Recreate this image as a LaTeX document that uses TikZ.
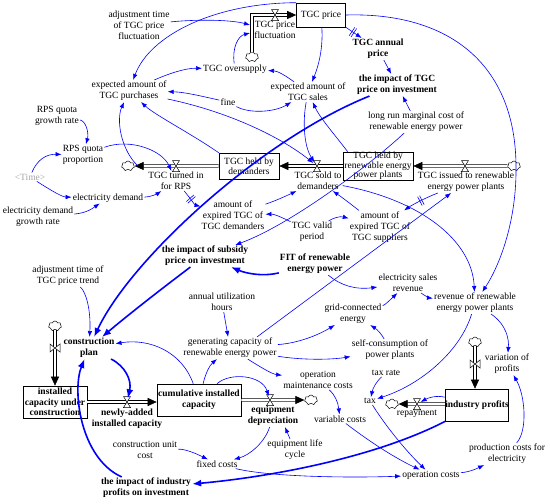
\documentclass[tikz,border=0pt]{standalone}
\usepackage{fontspec}
\setmainfont{Liberation Serif}
\usetikzlibrary{arrows.meta,shapes.symbols}
\definecolor{lk}{RGB}{0,0,255}
\newcommand{\nf}{\fontsize{9.5}{11}\selectfont}
\newcommand{\dmk}{\rule[-5pt]{0.6pt}{10pt}\hspace{1.6pt}\rule[-5pt]{0.6pt}{10pt}}
\tikzset{
 txt/.style={align=center, inner sep=1pt, font=\nf},
 bt/.style={align=center, inner sep=1pt, font=\nf\bfseries},
 stock/.style={draw=black, line width=0.6pt, inner sep=0pt, align=center, font=\nf},
 cl/.style={cloud, cloud puffs=7, cloud ignores aspect, draw=black, line width=0.5pt, minimum width=13pt, minimum height=10pt, inner sep=0pt, fill=white},
 vl/.style={inner sep=0pt, minimum width=7pt, minimum height=7pt},
 pipe/.style={draw=black, double=white, line width=0.55pt, double distance=2pt, -{Triangle[length=9pt,width=8pt]}},
 lnk/.style={draw=lk, line width=0.6pt, -{Latex[length=6pt,width=4.5pt]}},
 tlnk/.style={draw=lk, line width=1.6pt, -{Latex[length=9pt,width=7pt]}},
 dm/.style={sloped, inner sep=0pt, text=lk},
 valveh/.pic={\draw[fill=white, line width=0.5pt] (-3.5,-5.5) -- (3.5,-5.5) -- (-3.5,5.5) -- (3.5,5.5) -- cycle;},
 valvev/.pic={\draw[fill=white, line width=0.5pt] (-5,-4) -- (-5,4) -- (5,-4) -- (5,4) -- cycle;},
}
\begin{document}
\begin{tikzpicture}[x=1pt,y=-1pt]
\useasboundingbox (0,0) rectangle (550,504);
\fill[white] (0,0) rectangle (550,504);

% ---------- stocks ----------
\node[stock, minimum width=49pt, minimum height=24pt] (price) at (321,15) {TGC price};
\node[stock, minimum width=60pt, minimum height=26pt, font=\fontsize{9.5}{10}\selectfont] (demBox) at (249,166) {TGC held by\\demanders};
\node[stock, minimum width=70pt, minimum height=27pt, font=\fontsize{9.5}{7.6}\selectfont] (renBox) at (378,166) {TGC held by\\renewable energy\\power plants};
\node[stock, minimum width=64pt, minimum height=32pt, font=\fontsize{9.5}{10.5}\selectfont\bfseries] (icuc) at (55,402) {installed\\capacity under\\construction};
\node[stock, minimum width=84pt, minimum height=32pt, font=\fontsize{9.5}{11}\selectfont\bfseries] (cum) at (199,400) {cumulative installed\\capacity};
\node[stock, minimum width=62pt, minimum height=32pt, font=\nf\bfseries] (ip) at (477,405) {industry profits};

% ---------- clouds ----------
\node[cl] (cFluc) at (252,57) {};
\node[cl] (cTurn) at (128,166) {};
\node[cl] (cIss) at (514,166) {};
\node[cl] (cCons) at (55,326) {};
\node[cl] (cDep) at (311,400) {};
\node[cl] (cRep) at (392,404) {};
\node[cl] (cIP) at (475,342) {};

% ---------- valves (placeholders) ----------
\node[vl] (vFluc) at (275,15) {};
\node[vl] (vTurn) at (176,166) {};
\node[vl] (vSold) at (317,166) {};
\node[vl] (vIss) at (465,166) {};
\node[vl] (vCons) at (55,348) {};
\node[vl] (vNew) at (127,402) {};
\node[vl] (vDep) at (270,400) {};
\node[vl] (vRep) at (417,404) {};
\node[vl] (vIP) at (475,364) {};

% ---------- texts ----------
\node[txt] (adjFluc) at (139,25) {adjustment time\\of TGC price\\fluctuation};
\node[txt] (flucLab) at (275,30) {TGC price\\fluctuation};
\node[bt] (annual) at (378,49) {TGC annual\\price};
\node[bt] (impTGC) at (397,85) {the impact of TGC\\price on investment};
\node[txt] (lrmc) at (416,122) {long run marginal cost of\\renewable energy power};
\node[txt] (sales) at (308,92) {expected amount of\\TGC sales};
\node[txt] (over) at (235,69) {TGC oversupply};
\node[txt] (purch) at (129,91) {expected amount of\\TGC purchases};
\node[txt] (fine) at (228,102) {fine};
\node[txt] (rpsg) at (57,116) {RPS quota\\growth rate};
\node[txt] (rpsq) at (83,155) {RPS quota\\proportion};
\node[txt, text=black!35] (time) at (30,177) {<Time>};
\node[txt] (edem) at (108,198) {electricity demand};
\node[txt] (edgr) at (38,217) {electricity demand\\growth rate};
\node[txt] (turned) at (176,181) {TGC turned in\\for RPS};
\node[txt] (soldLab) at (318,181) {TGC sold to\\demanders};
\node[txt] (issuedLab) at (466,182) {TGC issued to renewable\\energy power plants};
\node[txt] (expDem) at (233,215) {amount of\\expired TGC of\\TGC demanders};
\node[txt] (valid) at (312,232) {TGC valid\\period};
\node[txt] (expSup) at (380,227) {amount of\\expired TGC of\\TGC suppliers};
\node[bt] (impSub) at (205,256) {the impact of subsidy\\price on investment};
\node[bt] (fit) at (315,264) {FIT of renewable\\energy power};
\node[txt] (esr) at (408,283) {electricity sales\\revenue};
\node[txt] (rev) at (475,303) {revenue of renewable\\energy power plants};
\node[txt] (grid) at (353,314) {grid-connected\\energy};
\node[txt] (adjTrend) at (68,276) {adjustment time of\\TGC price trend};
\node[txt] (auh) at (222,302) {annual utilization\\hours};
\node[txt] (gen) at (230,348) {generating capacity of\\renewable energy power};
\node[txt] (self) at (390,350) {self-consumption of\\power plants};
\node[bt] (plan) at (89,348) {construction\\plan};
\node[bt] (newly) at (127,419) {newly-added\\installed capacity};
\node[bt] (depr) at (273,416) {equipment\\depreciation};
\node[txt] (omc) at (318,380) {operation\\maintenance costs};
\node[txt] (taxrate) at (386,373) {tax rate};
\node[txt] (tax) at (370,401) {tax};
\node[txt] (repay) at (417,414) {repayment};
\node[txt] (varp) at (507,364) {variation of\\profits};
\node[txt] (varc) at (340,419) {variable costs};
\node[txt] (elc) at (295,450) {equipment life\\cycle};
\node[txt] (cuc) at (145,450) {construction unit\\cost};
\node[txt] (fixed) at (217,464) {fixed costs};
\node[bt] (impInd) at (146,488) {the impact of industry\\profits on investment};
\node[txt] (opc) at (431,475) {operation costs};
\node[txt] (pce) at (507,454) {production costs for\\electricity};

\coordinate (fIn1) at (250,25);
\coordinate (fIn2) at (250,33);
\coordinate (tOut) at (138,166);

% ---------- flows ----------
\draw[pipe] (cFluc) |- (price);
\draw[pipe] (demBox) -- (cTurn);
\draw[pipe] (renBox) -- (demBox);
\draw[pipe] (cIss) -- (renBox);
\draw[pipe] (cCons) -- (icuc);
\draw[pipe] (icuc.east) -- (icuc.east -| cum.west);
\draw[pipe] (cum.east |- cDep) -- (cDep);
\draw[pipe] (ip.west |- cRep) -- (cRep);
\draw[pipe] (cIP) -- (cIP |- ip.north);
\pic at (vFluc) {valveh};
\pic at (vTurn) {valveh};
\pic at (vSold) {valveh};
\pic at (vIss) {valveh};
\pic at (vCons) {valvev};
\pic at (vNew) {valveh};
\pic at (vDep) {valveh};
\pic at (vRep) {valveh};
\pic at (vIP) {valvev};

% ---------- links ----------
\draw[lnk] (adjFluc) .. controls (200,19) and (232,20) .. (fIn1);
\draw[lnk] (over) .. controls (232,48) and (238,36) .. (fIn2);
\draw[lnk] (price.north west) .. controls (215,3) and (150,35) .. (purch);
\draw[lnk] (price) .. controls (323,45) and (320,62) .. (sales);
\draw[lnk] (price.south east) -- (annual) node[dm, pos=0.45] {\dmk};
\draw[lnk] (annual) -- (impTGC);
\draw[lnk] (price.east) .. controls (450,12) and (515,65) .. (516,165) .. controls (517,220) and (500,265) .. (rev);
\draw[lnk] (purch) .. controls (168,74) and (185,68) .. (over);
\draw[lnk] (sales) .. controls (286,76) and (278,71) .. (over);
\draw[lnk] (fine) .. controls (205,97) and (185,92) .. (purch);
\draw[lnk] (fine) .. controls (250,114) and (275,112) .. (sales);
\draw[lnk] (purch) .. controls (230,112) and (282,138) .. (vSold);
\draw[lnk] (sales) .. controls (302,125) and (305,148) .. (vSold);
\draw[lnk] (demBox.north west) .. controls (190,133) and (155,115) .. (purch);
\draw[lnk] (tOut) .. controls (121,150) and (116,120) .. (purch);
\draw[lnk] (rpsg) .. controls (86,121) and (89,133) .. (rpsq);
\draw[lnk] (rpsq) .. controls (130,138) and (162,150) .. (turned);
\draw[lnk] (time) .. controls (55,193) and (63,197) .. (edem);
\draw[lnk] (time) .. controls (37,160) and (46,154) .. (rpsq);
\draw[lnk] (edgr) .. controls (87,213) and (93,208) .. (edem);
\draw[lnk] (edem) .. controls (150,197) and (157,194) .. (turned);
\draw[lnk] (turned) .. controls (190,198) and (195,205) .. (expDem) node[dm, pos=0.4] {\dmk};
\draw[lnk] (expDem) .. controls (275,201) and (286,196) .. (soldLab);
\draw[lnk] (valid) .. controls (285,219) and (275,214) .. (expDem);
\draw[lnk] (valid) .. controls (333,218) and (340,216) .. (expSup);
\draw[lnk] (expSup) .. controls (352,205) and (343,198) .. (soldLab);
\draw[lnk] (issuedLab) .. controls (425,198) and (412,205) .. (expSup) node[dm, pos=0.45] {\dmk};
\draw[lnk] ([xshift=27pt]gen.north) -- (issuedLab);
\draw[lnk] (lrmc) -- (impTGC);
\draw[lnk] (lrmc) .. controls (370,165) and (290,225) .. (impSub);
\draw[lnk] ([xshift=5pt]renBox.north west) .. controls (335,135) and (320,118) .. (sales);
\draw[lnk] (soldLab) .. controls (420,200) and (472,240) .. (rev);
\draw[tlnk] (fit) .. controls (262,277) and (245,273) .. (impSub);
\draw[lnk] (fit) .. controls (340,285) and (355,290) .. (esr);
\draw[lnk] (grid) .. controls (385,305) and (390,300) .. (esr);
\draw[lnk] (esr) .. controls (425,296) and (430,298) .. (rev);
\draw[lnk] (gen) .. controls (300,343) and (320,334) .. (grid);
\draw[lnk] (gen) .. controls (300,360) and (330,360) .. (self);
\draw[lnk] (self) .. controls (382,335) and (378,330) .. (grid);
\draw[lnk] (gen) .. controls (262,368) and (272,374) .. (omc);
\draw[lnk] (auh) -- (gen);
\draw[lnk] (cum) .. controls (206,372) and (210,365) .. (gen);
\draw[lnk] (cum) .. controls (182,352) and (150,338) .. (plan);
\draw[lnk] (cum) .. controls (230,372) and (262,375) .. (vDep);
\draw[tlnk] (plan) .. controls (125,366) and (132,380) .. (vNew);
\draw[lnk] (adjTrend) .. controls (86,292) and (91,310) .. (plan);
\draw[tlnk] (impTGC) .. controls (260,140) and (130,260) .. (plan);
\draw[tlnk] (impSub) .. controls (160,290) and (128,315) .. (plan);
\draw[tlnk] (impInd) .. controls (80,458) and (72,390) .. (plan);
\draw[tlnk] (ip) .. controls (370,460) and (260,478) .. (impInd);
\draw[lnk] (fixed) .. controls (270,477) and (350,478) .. (opc);
\draw[lnk] (cuc) .. controls (185,449) and (195,453) .. (fixed);
\draw[lnk] (depr) .. controls (265,442) and (250,455) .. (fixed);
\draw[lnk] ([xshift=-5pt]elc.north) -- ([xshift=12pt]depr.south);
\draw[lnk] (omc) .. controls (335,395) and (338,402) .. (varc);
\draw[lnk] (varc) .. controls (370,442) and (395,458) .. (opc);
\draw[lnk] (tax) .. controls (385,425) and (405,450) .. (opc);
\draw[lnk] (taxrate) .. controls (376,382) and (373,388) .. (tax);
\draw[lnk] (rev) .. controls (460,352) and (420,385) .. (tax);
\draw[lnk] (ip) .. controls (436,395) and (428,398) .. (vRep);
\draw[lnk] (rev) .. controls (507,325) and (509,340) .. (varp);
\draw[lnk] (pce) .. controls (528,430) and (525,395) .. (varp);
\draw[lnk] (opc) .. controls (470,472) and (478,468) .. (pce);
\end{tikzpicture}
\end{document}
